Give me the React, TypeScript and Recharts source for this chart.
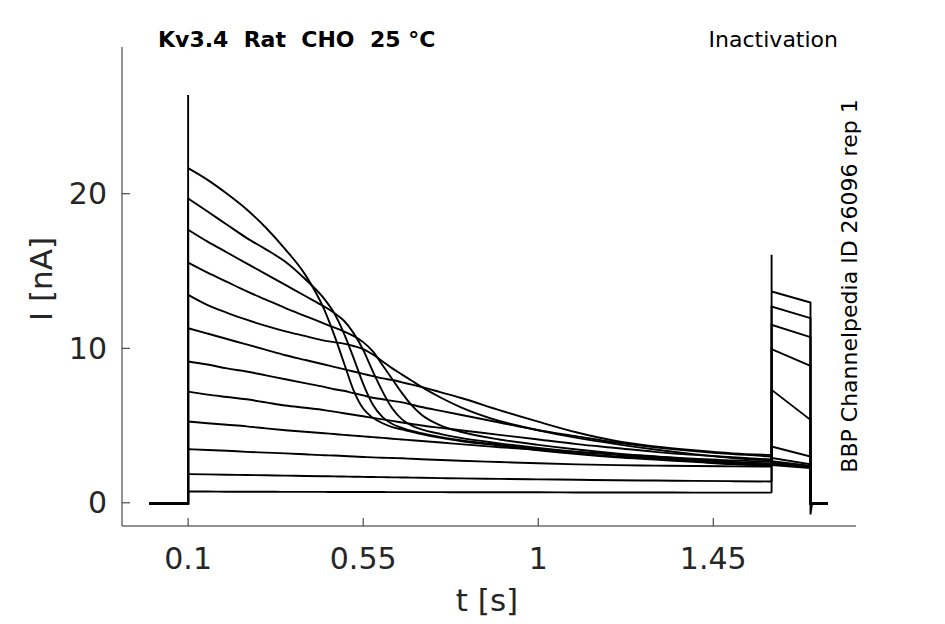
import React from "react";
import { LineChart, Line, XAxis, YAxis } from "recharts";

// sample times (s) along the first test pulse
const pulseTimes = [
  0.1, 0.15, 0.2, 0.25, 0.3, 0.35, 0.4, 0.45, 0.475, 0.5, 0.525, 0.55, 0.575, 0.6,
  0.625, 0.65, 0.675, 0.7, 0.75, 0.8, 0.9, 1.0, 1.1, 1.2, 1.3, 1.4, 1.5, 1.6,
];

// current (nA) per sweep at pulseTimes, largest prepulse current first
const sweepA = [21.66, 20.9, 20.0, 19.0, 17.8, 16.4, 14.8, 12.5, 10.9, 9.1, 7.3, 6.1, 5.5, 5.15, 4.9, 4.75, 4.6, 4.45, 4.2, 4.0, 3.7, 3.4, 3.15, 2.95, 2.8, 2.65, 2.5, 2.4];
const sweepB = [19.7, 18.85, 18.0, 17.15, 16.4, 15.6, 14.5, 13.2, 12.3, 11.0, 9.4, 7.7, 6.35, 5.55, 5.1, 4.85, 4.65, 4.5, 4.25, 4.05, 3.75, 3.45, 3.2, 3.0, 2.85, 2.7, 2.55, 2.45];
const sweepC = [17.67, 16.9, 16.2, 15.5, 14.8, 14.1, 13.4, 12.7, 12.3, 11.8, 11.0, 9.9, 8.5, 7.2, 6.1, 5.4, 5.0, 4.75, 4.45, 4.2, 3.85, 3.55, 3.3, 3.1, 2.9, 2.75, 2.6, 2.5];
const sweepD = [15.55, 14.9, 14.3, 13.7, 13.15, 12.6, 12.1, 11.6, 11.35, 11.1, 10.8, 10.4, 9.8, 8.9, 8.0, 7.1, 6.3, 5.7, 5.0, 4.6, 4.1, 3.75, 3.45, 3.2, 3.0, 2.8, 2.65, 2.55];
const sweepE = [13.46, 12.8, 12.3, 11.85, 11.45, 11.1, 10.8, 10.5, 10.4, 10.3, 10.15, 9.95, 9.6, 9.15, 8.7, 8.3, 7.9, 7.5, 6.8, 6.2, 5.3, 4.7, 4.2, 3.8, 3.45, 3.15, 2.9, 2.75];
const sweepF = [11.3, 10.95, 10.6, 10.25, 9.9, 9.55, 9.25, 8.95, 8.8, 8.65, 8.5, 8.35, 8.2, 8.05, 7.95, 7.8, 7.65, 7.5, 7.15, 6.8, 6.0, 5.25, 4.55, 4.0, 3.65, 3.4, 3.2, 3.1];
const sweepG = [9.15, 8.95, 8.7, 8.5, 8.25, 8.0, 7.75, 7.5, 7.35, 7.25, 7.1, 6.95, 6.8, 6.7, 6.6, 6.5, 6.35, 6.2, 5.95, 5.7, 5.2, 4.7, 4.3, 3.9, 3.6, 3.35, 3.15, 3.0];
const sweepH = [7.2, 7.0, 6.85, 6.7, 6.5, 6.3, 6.15, 6.0, 5.9, 5.8, 5.7, 5.6, 5.5, 5.4, 5.3, 5.2, 5.1, 5.0, 4.85, 4.7, 4.4, 4.1, 3.8, 3.55, 3.3, 3.1, 2.95, 2.8];
const sweepI = [5.26, 5.15, 5.05, 4.95, 4.82, 4.7, 4.6, 4.5, 4.45, 4.4, 4.35, 4.3, 4.25, 4.2, 4.15, 4.1, 4.05, 4.0, 3.9, 3.8, 3.6, 3.45, 3.3, 3.15, 3.0, 2.85, 2.75, 2.65];
const sweepJ = [3.47, 3.42, 3.37, 3.3, 3.25, 3.2, 3.14, 3.08, 3.06, 3.03, 3.0, 2.97, 2.94, 2.92, 2.9, 2.88, 2.85, 2.82, 2.77, 2.72, 2.64, 2.56, 2.49, 2.44, 2.41, 2.38, 2.36, 2.35];
const sweepK = [1.86, 1.84, 1.82, 1.8, 1.78, 1.76, 1.74, 1.72, 1.71, 1.7, 1.69, 1.68, 1.67, 1.66, 1.65, 1.64, 1.63, 1.62, 1.6, 1.58, 1.55, 1.52, 1.49, 1.46, 1.44, 1.42, 1.4, 1.38];
const sweepL = [0.73, 0.73, 0.72, 0.72, 0.72, 0.71, 0.71, 0.71, 0.7, 0.7, 0.7, 0.7, 0.7, 0.7, 0.69, 0.69, 0.69, 0.69, 0.69, 0.68, 0.68, 0.68, 0.67, 0.67, 0.67, 0.66, 0.66, 0.66];

const firstPulse = [sweepA, sweepB, sweepC, sweepD, sweepE, sweepF, sweepG, sweepH, sweepI, sweepJ, sweepK, sweepL];

// second pulse 1.6 s -> 1.7 s: current at its start and end, same sweep order
const secondStart = [2.45, 2.5, 2.55, 2.6, 2.7, 2.9, 3.64, 7.31, 9.95, 11.52, 12.7, 13.68];
const secondEnd = [2.25, 2.3, 2.3, 2.35, 2.4, 2.5, 3.0, 5.37, 8.87, 10.72, 11.95, 12.96];

// capacitive transients and holding current
const onsetPeak = 26.4;
const testPeak = 16.05;
const offsetDip = -0.75;
const holding = -0.05;

const xTicks = [0.1, 0.55, 1, 1.45];
const yTicks = [0, 10, 20];

const INK = "#262626";

type Pt = { t: number; v: number | null };

// smooth part: the decay during the first pulse
function pulseCurve(i: number): Pt[] {
  return firstPulse[i].map((v, k) => ({ t: pulseTimes[k], v }));
}

// step part: holding -> onset jump, then (after a gap) the second pulse and tail
function stepPath(i: number): Pt[] {
  const first = i === 0;
  const last = i === firstPulse.length - 1;
  const vals = firstPulse[i];
  const pts: Pt[] = [
    { t: 0, v: holding },
    { t: 0.1, v: holding },
  ];
  if (first) pts.push({ t: 0.1, v: onsetPeak });
  pts.push({ t: 0.1, v: vals[0] });
  pts.push({ t: 0.8, v: null });
  pts.push({ t: 1.6, v: vals[vals.length - 1] });
  if (last) pts.push({ t: 1.6, v: testPeak });
  pts.push({ t: 1.6, v: secondStart[i] });
  pts.push({ t: 1.7, v: secondEnd[i] });
  pts.push({ t: 1.7, v: last ? offsetDip : holding });
  pts.push({ t: 1.704, v: holding });
  pts.push({ t: 1.745, v: holding });
  return pts;
}

const curves = firstPulse.map((_, i) => pulseCurve(i));
const steps = firstPulse.map((_, i) => stepPath(i));

export default function App() {
  return (
    <div
      style={{
        position: "absolute",
        left: 0,
        top: 0,
        width: 945,
        height: 624,
        background: "#fff",
        fontFamily: "DejaVu Sans",
      }}
    >
      <LineChart width={945} height={624} margin={{ top: 47, right: 89, bottom: 38, left: 22 }}>
        <XAxis
          type="number"
          dataKey="t"
          domain={[-0.07, 1.817]}
          ticks={xTicks}
          allowDataOverflow
          height={60}
          tickSize={-8}
          tickMargin={30}
          stroke={INK}
          tick={{ fill: INK, fontSize: 30 }}
        />
        <YAxis
          type="number"
          dataKey="v"
          domain={[-1.5, 29.5]}
          ticks={yTicks}
          allowDataOverflow
          width={100}
          tickSize={-8}
          tickMargin={23}
          stroke={INK}
          tick={{ fill: INK, fontSize: 30 }}
        />
        {steps.map((s, i) => (
          <Line
            key={"s" + i}
            data={s}
            dataKey="v"
            type="linear"
            stroke="#000"
            strokeWidth={1.9}
            dot={false}
            activeDot={false}
            isAnimationActive={false}
          />
        ))}
        {curves.map((s, i) => (
          <Line
            key={"c" + i}
            data={s}
            dataKey="v"
            type="monotone"
            stroke="#000"
            strokeWidth={1.9}
            dot={false}
            activeDot={false}
            isAnimationActive={false}
          />
        ))}
      </LineChart>
      <svg
        width={945}
        height={624}
        style={{ position: "absolute", left: 0, top: 0, pointerEvents: "none" }}
      >
        <text x={158} y={47} fontSize={22} fontWeight="bold" fill="#000" style={{ whiteSpace: "pre" }}>
          {"Kv3.4  Rat  CHO  25 °C"}
        </text>
        <text x={838} y={47} fontSize={22} textAnchor="end" fill="#000">
          Inactivation
        </text>
        <text
          x={857}
          y={286}
          fontSize={22}
          textAnchor="middle"
          fill="#000"
          transform="rotate(-90 857 286)"
        >
          BBP Channelpedia ID 26096 rep 1
        </text>
        <text
          x={52}
          y={279}
          fontSize={31}
          textAnchor="middle"
          fill={INK}
          transform="rotate(-90 52 279)"
        >
          I [nA]
        </text>
        <text x={487} y={611} fontSize={31} textAnchor="middle" fill={INK}>
          t [s]
        </text>
      </svg>
    </div>
  );
}
